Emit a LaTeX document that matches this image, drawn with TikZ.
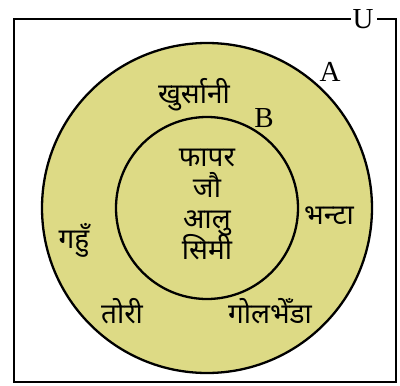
\documentclass[tikz,border=0pt]{standalone}
\usepackage{fontspec}
\setmainfont{Liberation Serif}
\newfontfamily\deva[Script=Devanagari]{Noto Sans}
\definecolor{fillA}{RGB}{221,218,133}
\begin{document}
\begin{tikzpicture}[x=1pt,y=-1pt,
  lab/.style={font=\fontsize{28}{30}\selectfont\deva, inner sep=0pt, anchor=base},
  setlab/.style={font=\fontsize{29}{31}\selectfont, inner sep=0pt, anchor=base}]
\useasboundingbox (0,0) rectangle (400,386);
\coordinate (c) at (207,208);
% universe rectangle with gap for U
\draw[line width=2pt] (351,19) -- (14,19) -- (14,382) -- (396,382) -- (396,19) -- (377,19);
\node[setlab] (U) at (363,28) {U};
% circles
\draw[line width=2.3pt, fill=fillA] (c) circle[radius=165];
\draw[line width=2.3pt] (c) circle[radius=91];
\node[setlab] (A) at (330,81) {A};
\node[setlab] (B) at (264,127) {B};
% elements
\node[lab] (e1) at (194,103) {खुर्सानी};
\node[lab] (e2) at (207,166) {फापर};
\node[lab] (e3) at (207,197) {जौ};
\node[lab] (e4) at (207,228) {आलु};
\node[lab] (e5) at (207,259) {सिमी};
\node[lab] (e6) at (329,224) {भन्टा};
\node[lab] (e7) at (74,248) {गहुँ};
\node[lab] (e8) at (122,323) {तोरी};
\node[lab] (e9) at (270,323) {गोलभेँडा};
\end{tikzpicture}
\end{document}
